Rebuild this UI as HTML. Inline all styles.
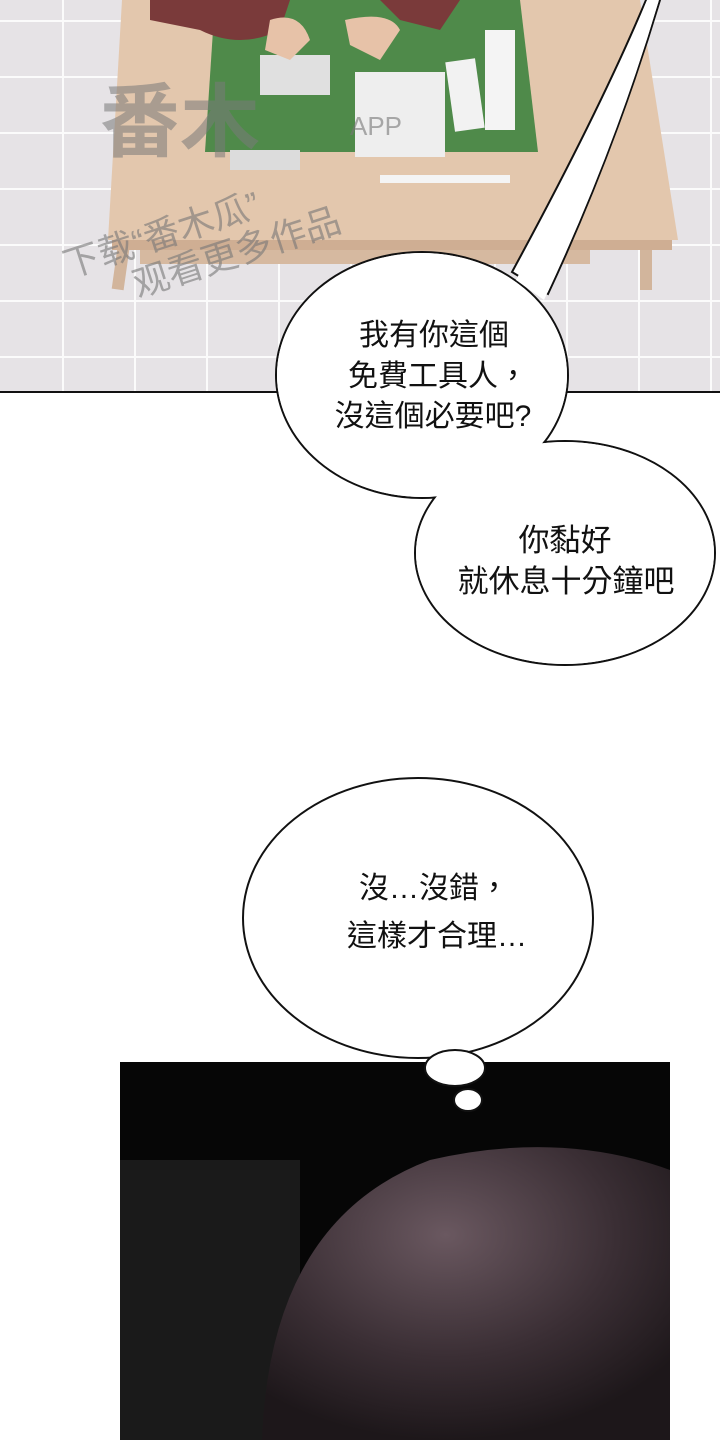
<!DOCTYPE html>
<html><head><meta charset="utf-8"><style>
html,body{margin:0;padding:0;background:#fff;width:720px;height:1440px;overflow:hidden}
svg{display:block}
text{font-family:"Liberation Sans","Noto Sans CJK TC",sans-serif;fill:#111}
</style></head><body>
<svg width="720" height="1440" viewBox="0 0 720 1440">
<defs>
<pattern id="tile" width="72" height="56" patternUnits="userSpaceOnUse" patternTransform="translate(-10,20)">
<rect width="72" height="56" fill="#e6e3e6"/>
<path d="M0 0H72M0 0V56" stroke="#fbfbfb" stroke-width="4"/>
</pattern>
<radialGradient id="hair" cx="0.45" cy="0.3" r="0.7">
<stop offset="0" stop-color="#6a5860"/><stop offset="0.6" stop-color="#3a2e34"/><stop offset="1" stop-color="#1d171a"/>
</radialGradient>
</defs>
<rect x="0" y="0" width="720" height="392" fill="url(#tile)"/>
<rect x="120" y="230" width="12" height="60" fill="#d2b59c" transform="rotate(8 126 230)"/>
<rect x="640" y="230" width="12" height="60" fill="#d2b59c"/>
<rect x="140" y="250" width="450" height="14" fill="#d6b9a0"/>
<path d="M122 0 H640 L678 240 H108 Z" fill="#e3c7ad"/>
<rect x="112" y="240" width="560" height="10" fill="#cfae93"/>
<path d="M215 0 H520 L538 152 H205 Z" fill="#4f8a4a"/>
<rect x="355" y="72" width="90" height="85" fill="#eeeeee"/>
<rect x="260" y="55" width="70" height="40" fill="#e0e0e0"/>
<rect x="450" y="60" width="30" height="70" fill="#f2f2f2" transform="rotate(-8 465 95)"/>
<rect x="485" y="30" width="30" height="100" fill="#f4f4f4"/>
<rect x="380" y="175" width="130" height="8" fill="#f4f4f4"/>
<rect x="230" y="150" width="70" height="20" fill="#dcdcdc"/>
<path d="M150 0 H290 L280 30 Q240 50 200 30 L150 20 Z" fill="#7a3a3a"/>
<path d="M380 0 H460 L440 30 L400 20 Z" fill="#7a3a3a"/>
<path d="M270 20 Q300 10 310 40 L290 60 L265 50 Z" fill="#e7c2a8"/>
<path d="M345 20 Q390 10 400 30 L380 60 L350 45 Z" fill="#e7c2a8"/>
<text x="100" y="150" font-size="80" style="fill:#7a7a7a;opacity:.55" font-weight="bold">番木</text>
<text x="350" y="135" font-size="26" style="fill:#777;opacity:.6">APP</text>
<g transform="rotate(-18 200 230)"><text x="60" y="235" font-size="36" style="fill:#777;opacity:.6">下载“番木瓜”</text>
<text x="120" y="275" font-size="36" style="fill:#777;opacity:.6">观看更多作品</text></g>
<line x1="0" y1="392" x2="720" y2="392" stroke="#111" stroke-width="2"/>
<!-- bubbles 1+2 merged with tail -->
<path d="M512 272 Q600 110 646 0 L660 0 Q615 150 548 294 Z" fill="#fff" stroke="#111" stroke-width="2"/>
<ellipse cx="422" cy="375" rx="146" ry="123" fill="#fff" stroke="#111" stroke-width="2"/>
<ellipse cx="565" cy="553" rx="150" ry="112" fill="#fff" stroke="#111" stroke-width="2"/>
<ellipse cx="422" cy="375" rx="145" ry="122" fill="#fff"/>
<ellipse cx="565" cy="553" rx="149" ry="111" fill="#fff"/>
<path d="M516 280 Q602 112 647 0 L659 0 Q614 152 544 300 Z" fill="#fff"/>
<text font-size="30" text-anchor="middle"><tspan x="434" y="345">我有你這個</tspan><tspan x="438" y="386">免費工具人，</tspan><tspan x="433" y="426">沒這個必要吧?</tspan></text>
<text font-size="31" text-anchor="middle"><tspan x="565" y="551">你黏好</tspan><tspan x="566" y="592">就休息十分鐘吧</tspan></text>
<!-- bottom panel -->
<rect x="120" y="1062" width="550" height="378" fill="#060606"/>
<rect x="120" y="1160" width="180" height="280" fill="#1a1a1a"/>
<path d="M262 1440 Q270 1220 430 1160 Q560 1130 670 1170 V1440 Z" fill="url(#hair)"/>
<!-- bubble 3 -->
<ellipse cx="418" cy="918" rx="175" ry="140" fill="#fff" stroke="#111" stroke-width="2"/>
<ellipse cx="455" cy="1068" rx="30" ry="18" fill="#fff" stroke="#111" stroke-width="2"/>
<ellipse cx="468" cy="1100" rx="14" ry="11" fill="#fff" stroke="#111" stroke-width="2"/>
<text font-size="30" text-anchor="middle"><tspan x="434" y="898">沒…沒錯，</tspan><tspan x="437" y="946">這樣才合理…</tspan></text>
</svg>
</body></html>
